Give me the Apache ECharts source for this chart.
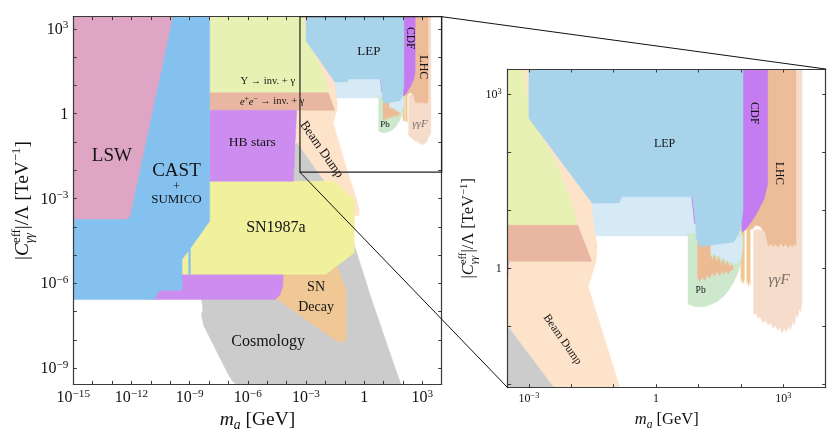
<!DOCTYPE html>
<html><head><meta charset="utf-8">
<script src="https://cdn.jsdelivr.net/npm/echarts@6.0.0/dist/echarts.min.js"></script>
<style>html,body{margin:0;padding:0;background:#fff;}#chart{width:830px;height:438px;}</style>
</head><body><div id="chart"></div>
<script>
const F = 'Liberation Serif';
// All values are log10: x = log10(m_a / GeV), y = log10(|C_gg^eff|/Lambda / TeV^-1)
const LEFT_X = [-15, 4];
const LEFT_Y = [-9.57, 3.43];
const RIGHT_X = [-3.5, 4];
const RIGHT_Y = [-2.06, 3.43];
const ZOOM_BOX_X = [-3.31, 4];
const ZOOM_BOX_Y = [-2.07, 3.43];

const LEFT_X_TICKS = [-15,-14,-13,-12,-11,-10,-9,-8,-7,-6,-5,-4,-3,-2,-1,0,1,2,3];
const LEFT_X_LABELS = [-15,-12,-9,-6,-3,0,3];
const LEFT_Y_TICKS = [-9,-8,-7,-6,-5,-4,-3,-2,-1,0,1,2,3];
const LEFT_Y_LABELS = [-9,-6,-3,0,3];
const RIGHT_X_TICKS = [-3,-2,-1,0,1,2,3];
const RIGHT_X_LABELS = [-3,0,3];
const RIGHT_Y_TICKS = [-2,-1,0,1,2,3];
const RIGHT_Y_LABELS = [0,3];

// ---- exclusion regions (boundary points, log10 units) ----
const LSW = [[-15,3.43],[-9.75,3.43],[-11.93,-3.45],[-12.0,-3.62],[-12.2,-3.76],[-15,-3.76]];
const CAST = [[-9.85,3.43],[-7.97,3.43],[-7.97,-3.8],[-8.96,-4.76],[-8.96,-5.68],[-9.05,-5.68],[-9.05,-4.85],[-9.39,-5.15],[-9.39,-6.24],[-10.45,-6.24],[-10.65,-6.32],[-10.8,-6.57],[-15,-6.57],[-15,-3.74],[-12.2,-3.74],[-12.05,-3.62],[-11.98,-3.39]];
const UPSILON = [[-7.97,3.43],[-3.12,3.43],[-3.06,3.0],[-2.96,2.57],[-2.37,1.85],[-1.98,1.11],[-1.85,0.74],[-7.97,0.74]];
const EE_INV = [[-7.97,0.74],[-1.85,0.74],[-1.52,0.12],[-7.97,0.12]];
const HB_STARS = [[-7.97,0.12],[-3.48,0.12],[-3.65,-2.39],[-7.97,-2.39]];
const HB_LOW = [[-11,-5.67],[-4.17,-5.67],[-4.2,-6.1],[-4.35,-6.42],[-4.6,-6.57],[-11,-6.57]];
const SN1987A = [[-7.97,-2.39],[-1.55,-2.39],[-0.51,-3.05],[-0.51,-4.92],[-1.98,-5.68],[-9.5,-5.68],[-9.5,-3.8],[-7.97,-3.8]];
const SN_DECAY = [[-4.3,-5.5],[-1.5,-5.2],[-0.94,-6.21],[-0.93,-7.95],[-1.05,-8.08],[-1.4,-8.05],[-4.6,-6.5],[-4.4,-6.3]];
const COSMOLOGY = [[-3.47,-1.03],[-2.07,-2.39],[-0.8,-3.4],[-0.53,-4.6],[0.35,-6.5],[1.1,-8.0],[1.6,-9.0],[1.97,-9.7],[-6.4,-9.7],[-6.8,-9.45],[-7.06,-9.15],[-8.27,-7.5],[-8.4,-7.1],[-8.32,-6.95],[-8.38,-6.57],[-8.36,-5.75],[-4.5,-5.75],[-3.72,-2.45],[-3.62,-1.2]];
const BEAM_DUMP = [[-3.45,3.43],[-2.9,3.43],[-2.8,2.5],[-1.62,1.3],[-1.55,1.23],[-1.47,0.74],[-1.39,0.39],[-1.41,0.14],[-1.49,-0.06],[-1.60,-0.32],[-0.88,-2.0],[-0.45,-2.9],[-0.25,-3.4],[-0.27,-3.6],[-0.45,-3.62],[-2.07,-2.39],[-3.47,-1.03],[-3.75,-0.5],[-3.75,0.8]];
const LIGHT_BLUE_UP = [[-2.2,1.23],[0.95,1.23],[0.95,0.553],[-2.2,0.553]];
const LEP = [[-3,3.43],[-3,2.58],[-1.51,1.12],[-0.88,1.12],[-0.80,1.23],[0.86,1.23],[0.93,0.75],[0.95,0.5],[1.05,0.37],[1.83,0.45],[1.99,0.65],[2.05,1.0],[2.05,3.43]];
const CDF_SLIVER = [[0.84,1.23],[0.87,1.23],[0.935,0.77],[0.905,0.77]];
const CDF = [[2.04,3.43],[2.63,3.43],[2.63,1.45],[2.55,1.2],[2.4,0.98],[2.25,0.8],[2.1,0.66],[2.03,0.62],[2.0,0.8]];
const LHC = [[2.45,3.43],[3.30,3.43],[3.30,0.38],[3.26,0.42],[3.22,0.36],[3.17,0.41],[3.12,0.35],[3.06,0.42],[3.0,0.37],[2.94,0.43],[2.88,0.36],[2.82,0.41],[2.76,0.37],[2.7,0.42],[2.65,0.38],[2.62,0.45],[2.58,0.6],[2.45,0.72],[2.35,0.74],[2.28,0.68],[2.2,0.66],[2.1,0.66],[2.02,0.62],[2.25,1.5]];
const GGF = [[3.28,3.43],[3.44,3.43],[3.44,-0.62],[3.41,-0.75],[3.37,-0.7],[3.34,-0.85],[3.3,-0.8],[3.26,-0.98],[3.22,-0.92],[3.17,-1.06],[3.12,-1.0],[3.07,-1.1],[3.02,-1.04],[2.97,-1.12],[2.92,-1.02],[2.87,-1.08],[2.82,-0.98],[2.76,-1.04],[2.7,-0.94],[2.64,-0.98],[2.58,-0.9],[2.52,-0.94],[2.46,-0.84],[2.4,-0.86],[2.35,-0.78],[2.3,-0.8],[2.3,0.66],[2.5,0.66],[3.28,0.5]];
const PB_GREEN = [[0.753,0.6],[0.753,-0.62],[0.9,-0.66],[1.083,-0.67],[1.25,-0.64],[1.44,-0.58],[1.6,-0.48],[1.71,-0.38],[1.83,-0.24],[1.91,-0.12],[1.98,0.03],[2.02,0.17],[2.04,0.4],[2.04,0.6]];
const LIGHT_BLUE_LOW = [[0.95,0.55],[2.04,0.55],[2.03,0.3],[1.98,0.15],[1.9,0.08],[1.75,0.1],[1.5,0.2],[1.28,0.25],[1.0,0.35]];
const PB_ORANGE = [[0.98,0.6],[1.28,0.6],[1.28,0.22],[1.34,0.14],[1.38,0.24],[1.43,0.1],[1.48,0.2],[1.53,0.06],[1.58,0.16],[1.63,0.04],[1.68,0.12],[1.73,0.03],[1.8,0.06],[1.82,-0.02],[1.76,-0.04],[1.7,-0.1],[1.65,-0.03],[1.6,-0.11],[1.55,-0.05],[1.5,-0.13],[1.44,-0.06],[1.38,-0.14],[1.32,-0.08],[1.27,-0.17],[1.2,-0.12],[1.15,-0.22],[1.09,-0.15],[1.04,-0.23],[0.98,-0.17]];
const STRIP_A = [[2.0,0.66],[2.08,0.66],[2.08,-0.2],[2.06,-0.27],[2.04,-0.16],[2.02,-0.25],[2.0,-0.18]];
const STRIP_B = [[2.14,0.66],[2.22,0.66],[2.22,-0.28],[2.2,-0.2],[2.18,-0.31],[2.16,-0.22],[2.14,-0.26]];

// drawing order (bottom to top) with fill colours
const REGIONS = [
  {pts: LIGHT_BLUE_UP, c: '#d6eaf6'},
  {pts: BEAM_DUMP, c: '#fee3cb'},
  {pts: COSMOLOGY, c: '#cccccc'},
  {pts: SN_DECAY, c: '#f0c896'},
  {pts: HB_LOW, c: '#cd8df0'},
  {pts: SN1987A, c: '#f1f19d'},
  {pts: UPSILON, c: '#e8f1b4'},
  {pts: EE_INV, c: '#e8b6a1'},
  {pts: HB_STARS, c: '#cd8df0'},
  {pts: LSW, c: '#dea6c4'},
  {pts: CAST, c: '#85c1ef'},
  {pts: GGF, c: '#f6ddcb'},
  {pts: LHC, c: '#ecbd98'},
  {pts: STRIP_A, c: '#f1c690'},
  {pts: STRIP_B, c: '#f1c690'},
  {pts: CDF, c: '#c47cf0'},
  {pts: PB_GREEN, c: '#cde8cd'},
  {pts: LIGHT_BLUE_LOW, c: '#d6eaf6'},
  {pts: PB_ORANGE, c: '#ecbb94'},
  {pts: CDF_SLIVER, c: '#c47cf0'},
  {pts: LEP, c: '#a8d4eb'}
];

// ---- text annotations (anchor in data units) ----
const LEFT_LABELS = [
  {t:'LSW', x:-13.01, y:-1.51, s:19},
  {t:'CAST', x:-9.68, y:-2.04, s:19},
  {t:'+', x:-9.68, y:-2.57, s:12},
  {t:'SUMICO', x:-9.68, y:-3.04, s:13},
  {t:'{n|Υ → inv. + γ}', x:-4.97, y:1.15, s:10.5},
  {t:'{i|e}{p|+}{i|e}{p|−}{n| → inv. + γ}', x:-4.74, y:0.43, s:10.5},
  {t:'HB stars', x:-5.77, y:-1.03, s:13.5},
  {t:'SN1987a', x:-4.55, y:-4.04, s:16},
  {t:'SN', x:-2.48, y:-6.14, s:14},
  {t:'Decay', x:-2.48, y:-6.86, s:14},
  {t:'Cosmology', x:-4.95, y:-8.07, s:16},
  {t:'Beam Dump', x:-2.2, y:-1.27, s:13, r:-55},
  {t:'LEP', x:0.245, y:2.19, s:13},
  {t:'CDF', x:2.39, y:2.67, s:11.5, r:-90},
  {t:'LHC', x:3.02, y:1.64, s:12, r:-90},
  {t:'Pb', x:1.07, y:-0.40, s:9},
  {t:'γγF', x:2.88, y:-0.38, s:11, it:true, c:'#7a6e66'}
];
const RIGHT_LABELS = [
  {t:'LEP', x:0.20, y:2.14, s:12},
  {t:'CDF', x:2.31, y:2.67, s:11.5, r:-90},
  {t:'LHC', x:2.9, y:1.63, s:11.5, r:-90},
  {t:'Pb', x:1.05, y:-0.39, s:9.5},
  {t:'γγF', x:2.9, y:-0.2, s:15, it:true, c:'#7a6e66'},
  {t:'Beam Dump', x:-2.21, y:-1.23, s:11.5, r:-55}
];

function clipPoly(pts, x0, y0, x1, y1){
  const inside=[p=>p[0]>=x0, p=>p[0]<=x1, p=>p[1]>=y0, p=>p[1]<=y1];
  const inter=[
    (a,b)=>[x0, a[1]+(b[1]-a[1])*(x0-a[0])/(b[0]-a[0])],
    (a,b)=>[x1, a[1]+(b[1]-a[1])*(x1-a[0])/(b[0]-a[0])],
    (a,b)=>[a[0]+(b[0]-a[0])*(y0-a[1])/(b[1]-a[1]), y0],
    (a,b)=>[a[0]+(b[0]-a[0])*(y1-a[1])/(b[1]-a[1]), y1]];
  let out = pts;
  for (let k=0;k<4;k++){
    const inp = out; out = [];
    if (!inp.length) break;
    for (let i=0;i<inp.length;i++){
      const cur = inp[i], prev = inp[(i+inp.length-1)%inp.length];
      const ci = inside[k](cur), pi = inside[k](prev);
      if (ci){ if(!pi) out.push(inter[k](prev,cur)); out.push(cur); }
      else if (pi) out.push(inter[k](prev,cur));
    }
  }
  return out;
}

function regionSeries(xi, yi){
  return {
    type:'custom', coordinateSystem:'cartesian2d', xAxisIndex:xi, yAxisIndex:yi,
    silent:true, z:2, clip:true,
    data: REGIONS.map(r => r.pts[0]),
    renderItem(params, api){
      const r = REGIONS[params.dataIndex];
      const cs = params.coordSys;
      const px = r.pts.map(p => api.coord(p));
      const pts = clipPoly(px, cs.x, cs.y, cs.x+cs.width, cs.y+cs.height);
      if (pts.length < 3) return null;
      return {type:'polygon', z2: params.dataIndex, shape:{points: pts},
              style:{fill: r.c, stroke: r.c, lineWidth: 0.5}};
    }
  };
}

function labelRich(s){
  return {
    n:{fontFamily:F, fontSize:s, fill:'#141414', verticalAlign:'bottom'},
    i:{fontFamily:F, fontSize:s, fontStyle:'italic', fill:'#141414', verticalAlign:'bottom'},
    p:{fontFamily:F, fontSize:s*0.7, fill:'#141414', verticalAlign:'bottom', padding:[0,0,s*0.42,0]}
  };
}

function labelSeries(xi, yi, labels){
  return {
    type:'custom', coordinateSystem:'cartesian2d', xAxisIndex:xi, yAxisIndex:yi,
    silent:true, z:5, clip:false,
    data: labels.map(l => [l.x, l.y]),
    renderItem(params, api){
      const l = labels[params.dataIndex];
      const p = api.coord([l.x, l.y]);
      return {type:'text', x:p[0], y:p[1], rotation:(l.r||0)*Math.PI/180, z2:100,
        style:{text:l.t, fontFamily:F, fontSize:l.s, fontStyle:l.it?'italic':'normal',
               fill:l.c||'#141414', align:'center', verticalAlign:'middle', rich: labelRich(l.s)}};
    }
  };
}

function powLabel(v){
  v = Math.round(v);
  if (v === 0) return '{b|1}';
  return '{b|10}{s|' + (v<0?'−':'') + Math.abs(v) + '}';
}
function tickRich(fs){
  return {
    b:{fontFamily:F, fontSize:fs, color:'#111', verticalAlign:'bottom', lineHeight:fs*1.1},
    s:{fontFamily:F, fontSize:fs*0.7, color:'#111', verticalAlign:'bottom', lineHeight:fs*0.75, padding:[0,0,fs*0.42,0]}
  };
}
function mkAxis(grid, range, pos, ticks, labels, fs, margin){
  const a = {type:'value', gridIndex:grid, min:range[0], max:range[1], position:pos, z:10,
    splitLine:{show:false}, axisPointer:{show:false},
    axisLine:{show:true, onZero:false, lineStyle:{color:'#3a3a3a', width:1.2}},
    axisTick:{show:true, inside:true, length:3.5, customValues:ticks, lineStyle:{color:'#3a3a3a', width:1}},
    axisLabel:{show:false}};
  if (labels){
    a.axisLabel = {show:true, customValues:labels, margin:margin, formatter:powLabel, rich:tickRich(fs), hideOverlap:false};
  }
  return a;
}

const chart = echarts.init(document.getElementById('chart'), null, {renderer:'canvas'});
const option = {
  animation:false,
  backgroundColor:'#fff',
  textStyle:{fontFamily:F},
  grid:[
    {left:73.3, top:16.7, width:368.4, height:367.6},
    {left:507.7, top:69, width:318, height:318.7}
  ],
  xAxis:[
    mkAxis(0, LEFT_X, 'bottom', LEFT_X_TICKS, LEFT_X_LABELS, 16, 4),
    mkAxis(0, LEFT_X, 'top', LEFT_X_TICKS, null),
    mkAxis(1, RIGHT_X, 'bottom', RIGHT_X_TICKS, RIGHT_X_LABELS, 12, 4),
    mkAxis(1, RIGHT_X, 'top', RIGHT_X_TICKS, null)
  ],
  yAxis:[
    mkAxis(0, LEFT_Y, 'left', LEFT_Y_TICKS, LEFT_Y_LABELS, 16, 5),
    mkAxis(0, LEFT_Y, 'right', LEFT_Y_TICKS, null),
    mkAxis(1, RIGHT_Y, 'left', RIGHT_Y_TICKS, RIGHT_Y_LABELS, 12, 6),
    mkAxis(1, RIGHT_Y, 'right', RIGHT_Y_TICKS, null)
  ],
  series:[
    regionSeries(0, 0),
    regionSeries(2, 2),
    labelSeries(0, 0, LEFT_LABELS),
    labelSeries(2, 2, RIGHT_LABELS)
  ]
};
chart.setOption(option);

// ---- axis titles (manual layout for stacked super/subscripts) ----
const mctx = document.createElement('canvas').getContext('2d');
function fontStr(s, it){ return (it?'italic ':'') + s + 'px "' + F + '"'; }
function tw(t, s, it){ mctx.font = fontStr(s, it); return mctx.measureText(t).width; }
function txtEl(p, x){
  return {type:'text', x:x, y:p.dy||0, style:{text:p.t, font:fontStr(p.s, p.it), fill:'#111', align:'left', verticalAlign:'middle'}};
}
function titleGroup(pieces, cx, cy, rot){
  let x = 0; const ch = [];
  for (let i=0;i<pieces.length;i++){
    const p = pieces[i];
    if (p.stack){
      const q = pieces[i+1];
      ch.push(txtEl(p, x)); ch.push(txtEl(q, x));
      x += Math.max(tw(p.t,p.s,p.it), tw(q.t,q.s,q.it)); i++; continue;
    }
    ch.push(txtEl(p, x)); x += tw(p.t, p.s, p.it);
  }
  ch.forEach(c => { c.x -= x/2; });
  return {type:'group', x:cx, y:cy, rotation:rot, children:ch, silent:true};
}
function yTitle(s){
  return [{t:'|', s:s}, {t:'C', s:s, it:true},
    {t:'eff', s:s*0.65, dy:-s*0.33, stack:true}, {t:'γγ', s:s*0.65, it:true, dy:s*0.34},
    {t:'|/Λ [TeV', s:s}, {t:'−1', s:s*0.65, dy:-s*0.3}, {t:']', s:s}];
}
function xTitle(s){
  return [{t:'m', s:s, it:true}, {t:'a', s:s*0.7, it:true, dy:s*0.3}, {t:' [GeV]', s:s}];
}

const tl = chart.convertToPixel({seriesIndex:0}, [ZOOM_BOX_X[0], ZOOM_BOX_Y[1]]);
const br = chart.convertToPixel({seriesIndex:0}, [ZOOM_BOX_X[1], ZOOM_BOX_Y[0]]);
const rTR = chart.convertToPixel({seriesIndex:1}, [RIGHT_X[1], RIGHT_Y[1]]);
const rBL = chart.convertToPixel({seriesIndex:1}, [RIGHT_X[0], RIGHT_Y[0]]);
const lc = chart.convertToPixel({seriesIndex:0}, [(LEFT_X[0]+LEFT_X[1])/2, (LEFT_Y[0]+LEFT_Y[1])/2]);
const rc = chart.convertToPixel({seriesIndex:1}, [(RIGHT_X[0]+RIGHT_X[1])/2, (RIGHT_Y[0]+RIGHT_Y[1])/2]);

chart.setOption({
  graphic:[
    {type:'rect', z:50, silent:true, shape:{x:tl[0], y:tl[1], width:br[0]-tl[0], height:br[1]-tl[1]},
     style:{fill:'none', stroke:'#222', lineWidth:1.2}},
    {type:'line', z:50, silent:true, shape:{x1:br[0], y1:tl[1], x2:rTR[0], y2:rTR[1]}, style:{stroke:'#111', lineWidth:1}},
    {type:'line', z:50, silent:true, shape:{x1:tl[0], y1:br[1], x2:rBL[0], y2:rBL[1]}, style:{stroke:'#111', lineWidth:1}},
    titleGroup(yTitle(19.5), 23, lc[1], Math.PI/2),
    titleGroup(xTitle(19.5), lc[0], 420, 0),
    titleGroup(yTitle(16.5), 469, rc[1], Math.PI/2),
    titleGroup(xTitle(16.5), rc[0], 420, 0)
  ]
});
</script></body></html>
